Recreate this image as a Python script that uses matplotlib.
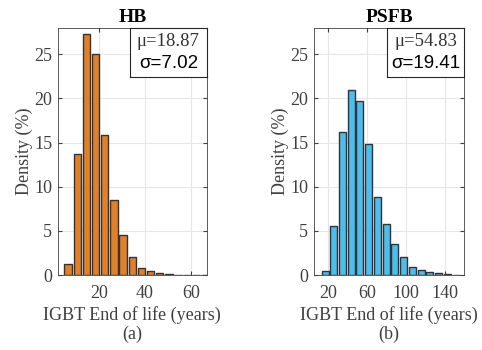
import numpy as np
import matplotlib
matplotlib.use('Agg')
import matplotlib.pyplot as plt

# HB histogram (bin centres in years, density in %)
hb_centers = [6.5, 10.5, 14.5, 18.5, 22.5, 26.5, 30.5, 34.5, 38.5, 42.5, 46.5, 50.5, 54.5, 58.5, 62.5, 66.5]
hb_density = [1.3, 13.7, 27.3, 25.0, 15.8, 8.5, 4.5, 2.1, 0.8, 0.5, 0.25, 0.12, 0.06, 0.04, 0.03, 0.02]

# PSFB histogram
psfb_centers = [16.6, 25.6, 34.6, 43.6, 52.6, 61.6, 70.6, 79.6, 88.6, 97.6, 106.6, 115.6, 124.6, 133.6, 142.6, 151.6]
psfb_density = [0.5, 5.5, 16.2, 21.0, 19.7, 14.8, 8.8, 5.8, 3.5, 2.0, 0.95, 0.6, 0.3, 0.2, 0.08, 0.05]

serif = ['Liberation Serif', 'DejaVu Serif']
sans = ['Liberation Sans', 'DejaVu Sans']
plt.rcParams['font.family'] = serif

fig = plt.figure(figsize=(4.82, 3.5), dpi=100)
ax1 = fig.add_axes([0.120, 0.214, 0.309, 0.707])
ax2 = fig.add_axes([0.651, 0.214, 0.312, 0.707])

panels = [
    (ax1, hb_centers, hb_density, 4, '#E0802A', 'HB', '(a)', '18.87', '7.02', (2, 67), [20, 40, 60]),
    (ax2, psfb_centers, psfb_density, 9, '#4CBDEC', 'PSFB', '(b)', '54.83', '19.41', (5, 160), [20, 60, 100, 140]),
]

for ax, c, d, w, col, title, tag, mu, sd, xl, xt in panels:
    ax.bar(c, d, width=w * 0.8, color=col, edgecolor='#333333', linewidth=1.0, zorder=3)
    ax.set_xlim(*xl)
    ax.set_ylim(0, 28)
    ax.set_xticks(xt)
    ax.set_yticks([0, 5, 10, 15, 20, 25])
    ax.grid(True, color='#e6e6e6', linewidth=0.8, zorder=0)
    ax.set_axisbelow(True)
    ax.tick_params(labelsize=13, colors='#404040', length=3, direction='in', top=True, right=True, pad=4)
    ax.tick_params(axis='x', pad=7)
    for s in ax.spines.values():
        s.set_color('#404040')
        s.set_linewidth(0.6)
    ax.set_title(title, fontsize=14, fontweight='bold', pad=4)
    ax.set_ylabel('Density (%)', fontsize=13, color='#404040', labelpad=1)
    ax.set_xlabel('IGBT End of life (years)\n' + tag, fontsize=13,
                  color='#404040', labelpad=3, linespacing=1.15)
    # stats box in the top right corner
    bx = ax.inset_axes([0.485, 0.8, 0.515, 0.2])
    bx.set_xticks([])
    bx.set_yticks([])
    bx.set_facecolor('white')
    for s in bx.spines.values():
        s.set_color('#262626')
        s.set_linewidth(0.8)
    bx.text(0.5, 0.72, '\u03bc=' + mu, ha='center', va='center', fontsize=13.5, family=serif, color='#333333')
    bx.text(0.5, 0.27, '\u03c3=' + sd, ha='center', va='center', fontsize=13.5, family=sans)

fig.savefig('out.png', dpi=100)
